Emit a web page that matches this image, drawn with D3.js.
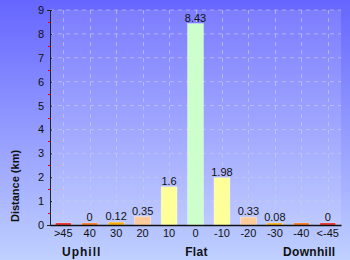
<!DOCTYPE html>
<html>
<head>
<meta charset="utf-8">
<script src="https://cdnjs.cloudflare.com/ajax/libs/d3/7.8.5/d3.min.js"></script>
<style>
  body { margin: 0; }
  svg { display: block; font-family: "Liberation Sans", Arial, sans-serif; }
</style>
</head>
<body>
<div id="chart"></div>
<script>
// gradient categories (percent) and distance per gradient (km)
var categories = [">45", "40", "30", "20", "10", "0", "-10", "-20", "-30", "-40", "<-45"];
var values = [0, 0, 0.12, 0.35, 1.6, 8.43, 1.98, 0.33, 0.08, 0, 0];
var valueLabels = ["", "0", "0.12", "0.35", "1.6", "8.43", "1.98", "0.33", "0.08", "", "0"];
var barColors = ["#ee1111", "#ff6600", "#ffaa00", "#ffcc99", "#ffff99", "#ccffcc",
                 "#ffff99", "#ffcc99", "#ffaa00", "#ff6600", "#ee1111"];
var yTicks = [0, 1, 2, 3, 4, 5, 6, 7, 8, 9];
var groupLabels = ["Uphill", "Flat", "Downhill"];
var groupAt = ["40", "0", "-40"];

var W = 350, H = 260;
var margin = { top: 10, right: 9, bottom: 35, left: 50 };
var iw = W - margin.left - margin.right, ih = H - margin.top - margin.bottom;

var svg = d3.select("#chart").append("svg").attr("width", W).attr("height", H);
var defs = svg.append("defs");
var bg = defs.append("linearGradient").attr("id", "bg").attr("x1", 0).attr("y1", 0).attr("x2", 0).attr("y2", 1);
bg.append("stop").attr("offset", "0%").attr("stop-color", "#6666ff");
bg.append("stop").attr("offset", "100%").attr("stop-color", "#c0d0ff");
svg.append("rect").attr("width", W).attr("height", H).attr("fill", "url(#bg)");

var g = svg.append("g").attr("transform", "translate(" + margin.left + "," + margin.top + ")");

var x = d3.scaleBand().domain(categories).range([0, iw]).paddingInner(0.4).paddingOuter(0.2);
var y = d3.scaleLinear().domain([0, 9]).range([ih, 0]);

// plot area, a touch lighter than the outer background
g.append("rect").attr("width", iw).attr("height", ih).attr("fill", "#ffffff").attr("opacity", 0.13);

// grid
g.selectAll(".hgrid").data(yTicks.slice(1)).enter().append("line")
  .attr("x1", 0).attr("x2", iw)
  .attr("y1", function(d) { return y(d); }).attr("y2", function(d) { return y(d); })
  .attr("stroke", "#d0d0e8").attr("stroke-width", 1).attr("stroke-dasharray", "4,4").attr("opacity", 0.6);
g.selectAll(".vgrid").data(categories).enter().append("line")
  .attr("x1", function(d) { return Math.round(x(d) + x.bandwidth() / 2) + 0.5; })
  .attr("x2", function(d) { return Math.round(x(d) + x.bandwidth() / 2) + 0.5; })
  .attr("y1", 0).attr("y2", ih)
  .attr("stroke", "#d0d0e8").attr("stroke-width", 1).attr("stroke-dasharray", "4,4").attr("opacity", 0.6);

// bars (zero values still show a thin sliver)
g.selectAll(".bar").data(values).enter().append("rect")
  .attr("x", function(d, i) { return x(categories[i]); })
  .attr("width", x.bandwidth())
  .attr("y", function(d) { return Math.min(y(d), ih - 2); })
  .attr("height", function(d) { return Math.max(ih - y(d), 2); })
  .attr("fill", function(d, i) { return barColors[i]; })
  .attr("stroke", "#ffffff").attr("stroke-width", 0.6).attr("stroke-opacity", 0.6);

g.selectAll(".vlabel").data(values).enter().append("text")
  .attr("x", function(d, i) { return x(categories[i]) + x.bandwidth() / 2; })
  .attr("y", function(d) { return Math.min(y(d), ih - 2) - 2; })
  .attr("text-anchor", "middle").attr("font-size", 11).attr("fill", "#111")
  .text(function(d, i) { return valueLabels[i]; });

// y axis
var yAxis = g.append("g").call(d3.axisLeft(y).tickValues(yTicks).tickSize(3).tickPadding(3));
yAxis.select(".domain").attr("stroke", "#222");
yAxis.selectAll(".tick line").attr("x2", 2).attr("stroke", "#222");
yAxis.selectAll(".tick text").attr("font-size", 11).attr("fill", "#111").attr("font-family", null);
g.selectAll(".minor").data(yTicks.slice(0, -1)).enter().append("line")
  .attr("x1", -2).attr("x2", 0.5)
  .attr("y1", function(d) { return Math.round(y(d + 0.5)) + 0.5; })
  .attr("y2", function(d) { return Math.round(y(d + 0.5)) + 0.5; })
  .attr("stroke", "#dd0000");

// x axis
var xAxis = g.append("g").attr("transform", "translate(0," + ih + ")")
  .call(d3.axisBottom(x).tickSize(0).tickPadding(4));
xAxis.select(".domain").attr("stroke", "#111").attr("stroke-width", 1.5);
xAxis.selectAll(".tick text").attr("font-size", 11).attr("fill", "#111").attr("font-family", null);

var groupShift = [-8, 1, 8];
g.selectAll(".group").data(groupLabels).enter().append("text")
  .attr("x", function(d, i) { return x(groupAt[i]) + x.bandwidth() / 2 + groupShift[i]; })
  .attr("y", ih + 31).attr("text-anchor", "middle")
  .attr("font-size", 12).attr("font-weight", "bold").attr("fill", "#111")
  .attr("letter-spacing", function(d, i) { return i === 0 ? 1 : 0.3; })
  .text(function(d) { return d; });

// y title
svg.append("text")
  .attr("transform", "translate(19,186) rotate(-90)")
  .attr("text-anchor", "middle").attr("font-size", 11).attr("font-weight", "bold").attr("fill", "#111")
  .text("Distance (km)");
</script>
</body>
</html>
